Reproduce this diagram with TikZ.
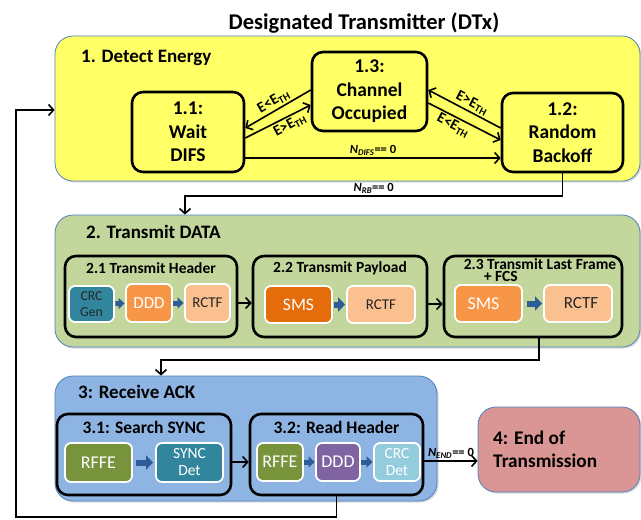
\documentclass[tikz,border=0pt]{standalone}
\usepackage{fontspec}
\setmainfont{Carlito}
\usetikzlibrary{arrows.meta,shadows,calc}
\definecolor{yel}{HTML}{FFFF66}
\definecolor{grn}{HTML}{C3D69B}
\definecolor{blu}{HTML}{8EB4E3}
\definecolor{endc}{HTML}{D99694}
\definecolor{edgec}{HTML}{4F81BD}
\definecolor{cteal}{HTML}{31859C}
\definecolor{corange}{HTML}{F79646}
\definecolor{lorange}{HTML}{FAC090}
\definecolor{dorange}{HTML}{E46C0A}
\definecolor{cgreen}{HTML}{77933C}
\definecolor{cpurple}{HTML}{8064A2}
\definecolor{lblue}{HTML}{93CDDD}
\definecolor{barc}{HTML}{2C5D96}
\newcommand{\myfs}[2]{\fontsize{#1}{#2}\selectfont}
\begin{document}
\begin{tikzpicture}[x=1pt,y=-1pt,
  bigbox/.style={draw=edgec, line width=0.8pt, rounded corners=18pt, inner sep=0pt,
    drop shadow={opacity=0.3, shadow xshift=1.5pt, shadow yshift=-1.5pt}},
  statebox/.style={draw=black, line width=2.6pt, rounded corners=11pt, inner sep=0pt,
    align=center, font=\bfseries\myfs{19.5}{23.5}},
  groupbox/.style={draw=black, line width=2.6pt, rounded corners=11pt, inner sep=0pt},
  blk/.style={draw=white, line width=1.8pt, rounded corners=6pt, inner sep=0pt, align=center,
    drop shadow={opacity=0.25, shadow xshift=1pt, shadow yshift=-1pt}},
  conn/.style={draw=black, line width=1.6pt, -{Straight Barb[length=5pt,width=11pt]}},
  barr/.style={draw=barc, line width=6pt, -{Triangle[length=7pt,width=14pt]}},
  barrs/.style={draw=barc, line width=5pt, -{Triangle[length=6pt,width=11pt]}, shorten <=0.5pt, shorten >=0.5pt},
  seclabel/.style={anchor=west, inner sep=0pt, font=\bfseries\myfs{19}{22}},
  subtitle/.style={inner sep=0pt, font=\bfseries\myfs{15.5}{12}},
  subtitleb/.style={inner sep=0pt, font=\bfseries\myfs{17.5}{20}},
  elabel/.style={font=\bfseries\myfs{15}{17}, inner sep=0.5pt},
  nlabel/.style={font=\bfseries\myfs{12.5}{14}, inner sep=1pt},
]
\fill[white] (0,0) rectangle (641,520);
\useasboundingbox (0,0) rectangle (641,520);

% title
\node[font=\bfseries\myfs{22.5}{27}, inner sep=0pt] (title) at (364,23) {Designated Transmitter (DTx)};

% big boxes
\node[bigbox, fill=yel, minimum width=585pt, minimum height=145pt] (E1) at (347.5,108.5) {};
\node[bigbox, fill=grn, minimum width=585pt, minimum height=132pt] (G2) at (347.5,281) {};
\node[bigbox, fill=blu, minimum width=382pt, minimum height=125pt] (B3) at (246,438.5) {};
\node[bigbox, fill=endc, minimum width=162pt, minimum height=85pt] (F4) at (559,449.5) {};

% section labels
\node[seclabel] (l1) at (81,57.5) {1. Detect Energy};
\node[seclabel] (l2) at (86,232) {2. Transmit DATA};
\node[seclabel] (l3) at (78,392) {3: Receive ACK};
\node[anchor=west, align=left, inner sep=0pt, font=\bfseries\myfs{19.3}{23}] (l4) at (493,449) {4: End of\\Transmission};

% stage 1 states
\node[statebox, minimum width=112pt, minimum height=80pt] (s11) at (188,132) {1.1:\\Wait\\DIFS};
\node[statebox, minimum width=115pt, minimum height=79pt] (s13) at (369.5,91.5) {1.3:\\Channel\\Occupied};
\node[statebox, minimum width=121pt, minimum height=79pt] (s12) at (562.5,132.5) {1.2:\\Random\\Backoff};

% stage 1 connectors
\draw[conn] (s13.west |- 0,90) -- node[elabel, rotate=29.6, above=1.5pt] {E<E\textsubscript{TH}} (s11.east |- 0,128);
\draw[conn] (s11.east |- 0,138) -- node[elabel, pos=0.62, rotate=28, below=1.5pt] {E>E\textsubscript{TH}} (s13.west |- 0,105);
\draw[conn] (s12.west |- 0,128) -- node[elabel, pos=0.45, rotate=-27.2, above=1.5pt] {E>E\textsubscript{TH}} (s13.east |- 0,90);
\draw[conn] (s13.east |- 0,103) -- node[elabel, pos=0.4, rotate=-28, below=1.5pt] {E<E\textsubscript{TH}} (s12.west |- 0,140);
\draw[conn] (s11.east |- 0,158) -- node[nlabel, above=1pt] {\textit{N}\textsubscript{\textit{DIFS}}== 0} (s12.west |- 0,158);

% 1 -> 2
\draw[conn] (s12.south) -- (s12.south |- 0,196) -- node[nlabel, above=1pt] {\textit{N}\textsubscript{\textit{RB}}== 0} (185,196) -- (G2.north -| 185,0);

% stage 2 groups
\node[groupbox, minimum width=172pt, minimum height=81pt] (g21) at (151,296.5) {};
\node[groupbox, minimum width=174pt, minimum height=81pt] (g22) at (340,296.5) {};
\node[groupbox, minimum width=178pt, minimum height=81pt] (g23) at (533,296.5) {};
\node[subtitle] (t21) at (151,268.5) {2.1 Transmit Header};
\node[subtitle] (t22) at (340,268.5) {2.2 Transmit Payload};
\node[subtitle, align=left] (t23) at (540,270) {2.3 Transmit Last Frame\\\hspace*{20pt}+ FCS};

% stage 2 blocks
\node[blk, fill=cteal, text=black!85, font=\myfs{13.7}{16}, minimum width=45pt, minimum height=36pt] (crc) at (91.5,304) {CRC\\Gen};
\node[blk, fill=corange, text=white, font=\myfs{17}{20}, minimum width=46pt, minimum height=38pt] (ddda) at (149,303) {DDD};
\node[blk, fill=lorange, text=black!85, font=\myfs{15}{18}, minimum width=45pt, minimum height=38pt] (rctfa) at (207.5,303) {RCTF};
\node[blk, fill=dorange, text=white, font=\myfs{17.5}{20}, minimum width=67pt, minimum height=37pt] (smsa) at (298.5,304.5) {SMS};
\node[blk, fill=lorange, text=black!85, font=\myfs{15}{18}, minimum width=68pt, minimum height=37pt] (rctfb) at (381,304.5) {RCTF};
\node[blk, fill=corange, text=white, font=\myfs{18}{20}, minimum width=67pt, minimum height=37pt] (smsb) at (488.5,303.5) {SMS\hspace*{10pt}};
\node[blk, fill=lorange, text=black!85, font=\myfs{17}{20}, minimum width=68pt, minimum height=37pt] (rctfc) at (578,303.5) {\hspace*{6pt}RCTF};

\draw[barrs] (crc) -- (ddda);
\draw[barrs] (ddda) -- (rctfa);
\draw[barr, shorten <=1pt, shorten >=1pt] (smsa) -- (rctfb);
\draw[barr, shorten <=4pt, shorten >=1pt] (smsb) -- (rctfc);

\draw[conn] (g21.east |- 0,303) -- (g22.west |- 0,303);
\draw[conn] (g22.east |- 0,304) -- (g23.west |- 0,304);

% 2 -> 3
\draw[conn] (g23.south -| 539,0) -- (539,360) -- (161,360) -- (B3.north -| 161,0);

% stage 3 groups
\node[groupbox, minimum width=174pt, minimum height=81pt] (g31) at (144,454.5) {};
\node[groupbox, minimum width=173pt, minimum height=81pt] (g32) at (336.5,454.5) {};
\node[subtitleb] (t31) at (144,427) {3.1: Search SYNC};
\node[subtitleb] (t32) at (336.5,427) {3.2: Read Header};

\node[blk, fill=cgreen, text=white, font=\myfs{18}{20}, minimum width=67pt, minimum height=39pt] (rffea) at (98.5,462.5) {RFFE};
\node[blk, fill=cteal, text=white, font=\myfs{15.5}{17}, minimum width=67pt, minimum height=39pt] (sync) at (189.5,462.5) {SYNC\\Det};
\node[blk, fill=cgreen, text=white, font=\myfs{18}{20}, minimum width=46pt, minimum height=38pt] (rffeb) at (280,462) {RFFE};
\node[blk, fill=cpurple, text=white, font=\myfs{18}{20}, minimum width=44pt, minimum height=38pt] (dddb) at (338,462) {DDD};
\node[blk, fill=lblue, text=white, font=\myfs{15.5}{17}, minimum width=46pt, minimum height=38pt] (crcd) at (397,462) {CRC\\Det};

\draw[barr, shorten <=3pt, shorten >=2pt] (rffea) -- (sync);
\draw[barrs] (rffeb) -- (dddb);
\draw[barrs] (dddb) -- (crcd);

\draw[conn] (g31.east |- 0,462) -- (g32.west |- 0,462);
\draw[conn] (g32.east |- 0,461) -- node[nlabel, above=1pt] {\textit{N}\textsubscript{\textit{END}}== 0} (F4.west |- 0,461);

% feedback loop
\draw[conn] (g32.south) -- (g32.south |- 0,517) -- (16,517) -- (16,110) -- (E1.west |- 0,110);
\end{tikzpicture}
\end{document}
